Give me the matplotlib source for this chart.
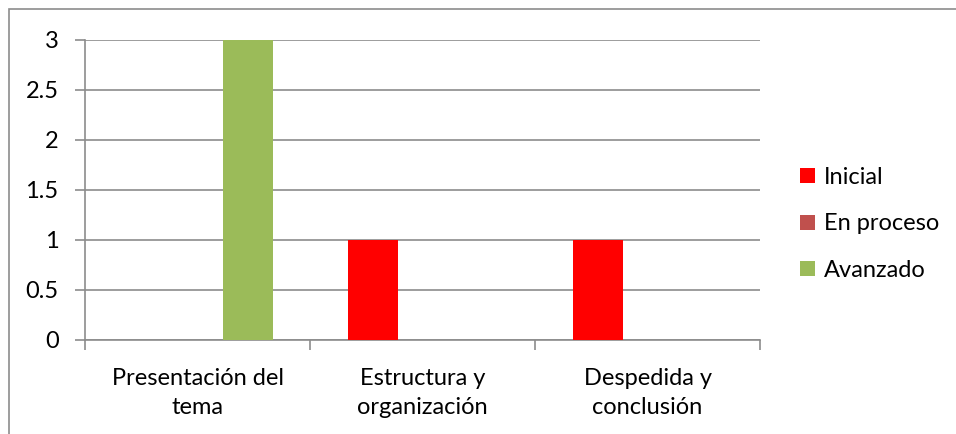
import matplotlib
matplotlib.use("Agg")
import matplotlib.pyplot as plt
from matplotlib.patches import Rectangle, Patch
import numpy as np

categories = ["Presentación del\ntema", "Estructura y\norganización", "Despedida y\nconclusión"]
series_names = ["Inicial", "En proceso", "Avanzado"]
inicial = [0, 1, 1]
en_proceso = [0, 0, 0]
avanzado = [3, 0, 0]
colors = ["#FF0000", "#C0504D", "#9BBB59"]
yticks = [0, 0.5, 1, 1.5, 2, 2.5, 3]
ytick_labels = ["0", "0.5", "1", "1.5", "2", "2.5", "3"]

plt.rcParams['font.family'] = ['Lato', 'DejaVu Sans']

W, H = 956, 434
fig = plt.figure(figsize=(W/100, H/100), dpi=100)
fig.patch.set_facecolor("white")

# outer border (top and left visible)
fig.add_artist(Rectangle((9/W, -0.1), 2, (H-9)/H + 0.1, transform=fig.transFigure,
                         fill=False, edgecolor="#8c8c8c", linewidth=1.2))

ax = fig.add_axes([85/W, (H-340)/H, (760-85)/W, 300/H])
x = np.arange(len(categories))
bw = 2/9  # group width 1, gap 150%
series = [inicial, en_proceso, avanzado]
for i, (vals, c) in enumerate(zip(series, colors)):
    ax.bar(x + (i-1)*bw, vals, width=bw, color=c, zorder=3)

ax.set_xlim(-0.5, 2.5)
ax.set_ylim(0, 3)
ax.set_yticks(yticks)
ax.set_yticklabels(ytick_labels, fontsize=17)
ax.yaxis.grid(True, color="#8c8c8c", linewidth=1.2, zorder=0)
ax.set_xticks([-0.5, 0.5, 1.5, 2.5])
ax.set_xticklabels([])
ax.set_xticks(x, minor=True)
ax.set_xticklabels(categories, minor=True, fontsize=17, linespacing=1.5)
ax.tick_params(axis="x", which="minor", length=0, pad=20)
ax.tick_params(axis="x", which="major", length=7, color="#8c8c8c", width=1.2)
ax.tick_params(axis="y", length=7, color="#8c8c8c", width=1.2, pad=12)
for s in ["top", "right"]:
    ax.spines[s].set_visible(False)
for s in ["left", "bottom"]:
    ax.spines[s].set_color("#8c8c8c")
    ax.spines[s].set_linewidth(1.2)

handles = [Patch(facecolor=c, edgecolor="none") for c in colors]
fig.legend(handles, series_names, loc="center left", bbox_to_anchor=(800/W, (H-224)/H),
           frameon=False, fontsize=17, handlelength=0.62, handleheight=0.62,
           handletextpad=0.4, labelspacing=1.08, borderaxespad=0, borderpad=0)

fig.savefig("out.png", dpi=100)
